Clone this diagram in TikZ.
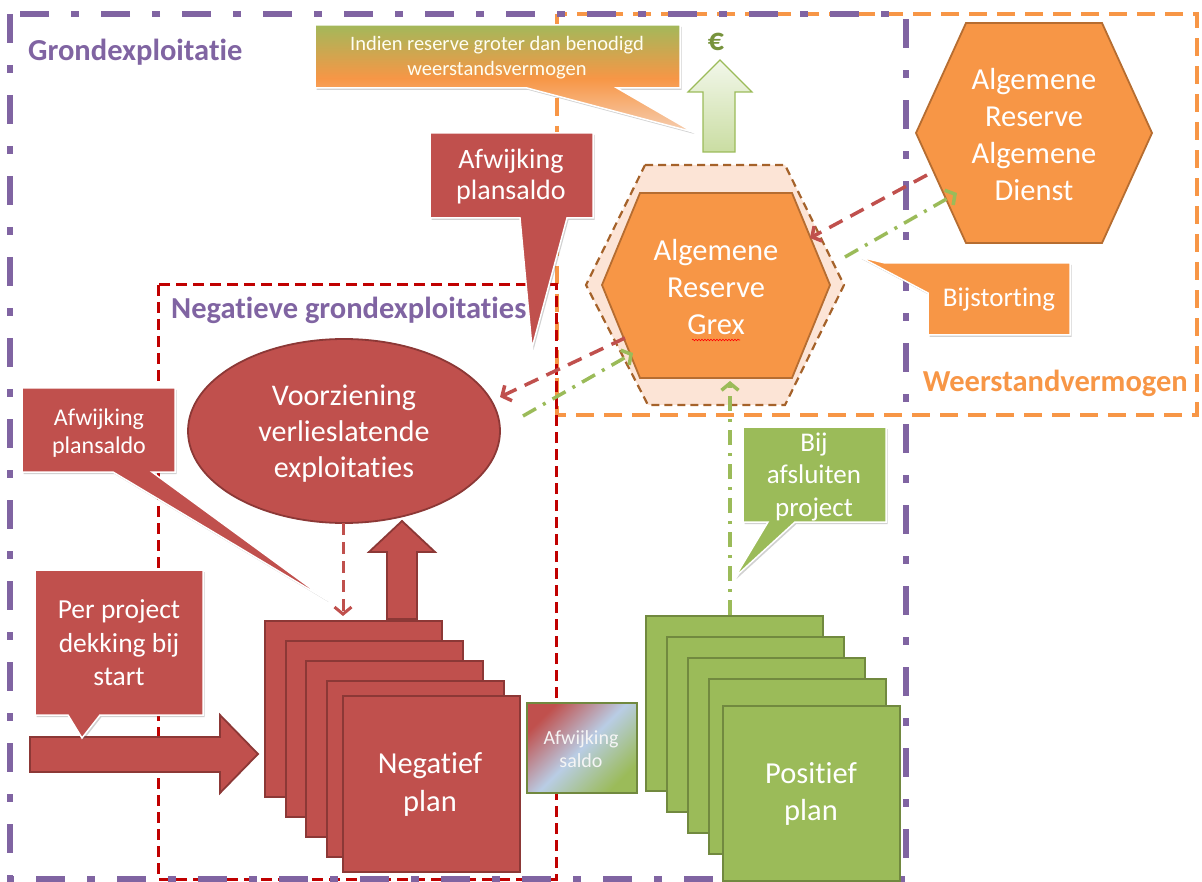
\documentclass[tikz,border=0pt]{standalone}
\usepackage{fontspec}
\setmainfont{Carlito}[Ligatures={NoCommon}]
\usetikzlibrary{shapes.geometric,arrows.meta,shadows,decorations.pathmorphing}

\definecolor{purp}{HTML}{8064A2}
\definecolor{orng}{HTML}{F79646}
\definecolor{orngdk}{HTML}{B66D31}
\definecolor{redf}{HTML}{C0504D}
\definecolor{reddk}{HTML}{8C3836}
\definecolor{grnf}{HTML}{9BBB59}
\definecolor{grndk}{HTML}{71893F}
\definecolor{frred}{HTML}{C00000}
\definecolor{hexhalo}{HTML}{FCE4D6}
\definecolor{hexdash}{HTML}{A5622A}
\definecolor{eurogrn}{HTML}{77933C}
\definecolor{lblue}{HTML}{B9CDE5}
\definecolor{olive}{HTML}{A3B85A}
\definecolor{peach}{HTML}{F6CFB2}
\definecolor{lgrntop}{HTML}{F2F7EA}
\definecolor{lgrnbot}{HTML}{CADDA2}

\newcommand\fsz[2]{\fontsize{#1}{#2}\selectfont}

\tikzset{
  purpframe/.style={draw=purp, line width=5.5pt, dash pattern=on 29pt off 22pt on 8pt off 22pt},
  orngframe/.style={draw=orng, line width=3.5pt, dash pattern=on 18pt off 10pt},
  redframe/.style={draw=frred, line width=3pt, dash pattern=on 11pt off 6pt},
  wtxt/.style={text=white, align=center, inner sep=0pt},
  callout/.style={draw=white, line width=1.5pt, line join=miter,
    drop shadow={shadow xshift=1.5pt, shadow yshift=-2pt, opacity=0.3, fill=black!60}},
  negplan/.style={draw=reddk, fill=redf, line width=2.2pt, minimum width=177pt,
    minimum height=176pt, anchor=north west, inner sep=0pt},
  posplan/.style={draw=grndk, fill=grnf, line width=2.4pt, minimum width=177pt,
    minimum height=175pt, anchor=north west, inner sep=0pt},
  hexbox/.style={fill=orng, draw=orngdk, line width=1.8pt, line join=miter},
  redarr/.style={draw=redf, line width=3.5pt, dash pattern=on 15pt off 9pt,
    -{Straight Barb[length=7pt,width=17pt]}},
  grnarr/.style={draw=grnf, line width=3.5pt, dash pattern=on 15pt off 8pt on 3pt off 8pt,
    -{Straight Barb[length=7pt,width=17pt]}},
  blockred/.style={fill=redf, draw=reddk, line width=1.8pt, line join=miter},
  framelabel/.style={inner sep=0pt, font=\bfseries\fsz{30.5}{36}}
}

\begin{document}
\begin{tikzpicture}[x=1pt,y=-1pt]
\useasboundingbox (0,0) rectangle (1202,882);

% ---------- frames ----------
\draw[orngframe] (557,14) rectangle (1197,415);
\draw[redframe] (158,285) rectangle (556,879);
\draw[purpframe] (10,14) rectangle (906,879);

\node[framelabel, text=purp, anchor=west] (lblgrond) at (28,52) {Grondexploitatie};
\node[framelabel, text=purp, anchor=west] (lblneg) at (171,310) {Negatieve grondexploitaties};
\node[framelabel, text=orng, anchor=east] (lblweer) at (1188,383) {Weerstandvermogen};

% ---------- top callout ----------
\path[callout, top color=olive, bottom color=peach, middle color=orng]
  (315,25) -- (680,25) -- (680,88) -- (617,88) -- (693,132) -- (527,88) -- (315,88) -- cycle;
\node[wtxt, text=white!95!yellow, font=\fsz{20.5}{25}] (indien) at (497,57.5)
  {Indien reserve groter dan benodigd\\weerstandsvermogen};

% ---------- euro arrow ----------
\draw[draw=grnf, line width=1.2pt, top color=lgrntop, bottom color=lgrnbot, line join=miter]
  (720,60) -- (752,92) -- (735,92) -- (735,152) -- (703,152) -- (703,92) -- (688,92) -- cycle;
\node[inner sep=0pt, text=eurogrn, font=\bfseries\fsz{32}{36}] (euro) at (716,42) {€};

% ---------- red callout top ----------
\path[callout, fill=redf]
  (430,133) -- (593,133) -- (593,218) -- (567,218) -- (532,348) -- (520,218) -- (430,218) -- cycle;
\node[wtxt, font=\fsz{28}{31}] (afwtop) at (511,177) {Afwijking\\plansaldo};

% ---------- hexagons ----------
\draw[fill=hexhalo, draw=hexdash, line width=2.2pt, dash pattern=on 8pt off 5pt]
  (645,165) -- (785,165) -- (844,285) -- (785,405) -- (648,405) -- (586,285) -- cycle;
\draw[hexbox] (640,193) -- (792,193) -- (830,285) -- (792,378) -- (640,378) -- (602,285) -- cycle;
\node[wtxt, font=\fsz{30.5}{37}] (grex) at (716,287) {Algemene\\Reserve\\Grex};
\draw[red, line width=0.6pt, decorate, decoration={snake, amplitude=0.8pt, segment length=3pt}]
  (692,340) -- (740,340);

\draw[hexbox] (966,23) -- (1102,23) -- (1152,133) -- (1102,243) -- (966,243) -- (916,133) -- cycle;
\node[wtxt, font=\fsz{30.5}{37}] (dienst) at (1034,135) {Algemene\\Reserve\\Algemene\\Dienst};

% ---------- Bijstorting callout ----------
\path[callout, fill=orng]
  (928,263) -- (1070,263) -- (1070,335) -- (928,335) -- (928,293) -- (860,257) -- (885,263) -- cycle;
\node[wtxt, font=\fsz{27}{30}] (bijst) at (999,300) {Bijstorting};

% ---------- ellipse ----------
\node[ellipse, fill=redf, draw=reddk, line width=1.8pt, minimum width=312pt, minimum height=184pt]
  (voorz) at (344,431) {};
\node[wtxt, font=\fsz{30}{36}] (voorztxt) at (344,434) {Voorziening\\verlieslatende\\exploitaties};

% ---------- left callout ----------
\path[callout, fill=redf]
  (22,388) -- (175,388) -- (175,472) -- (152,472) -- (327,600) -- (113,472) -- (22,472) -- cycle;
\node[wtxt, font=\fsz{24}{27.5}] (afwleft) at (99,433) {Afwijking\\plansaldo};

% ---------- per project callout and arrow ----------
\draw[blockred] (30,737) -- (220,737) -- (220,715) -- (258,754) -- (220,793) -- (220,772) -- (30,772) -- cycle;
\path[callout, fill=redf]
  (35,570) -- (203,570) -- (203,715) -- (100,715) -- (82,738) -- (68,715) -- (35,715) -- cycle;
\node[wtxt, font=\fsz{27.5}{33.5}] (perproj) at (119,643) {Per project\\dekking bij\\start};

% ---------- negative plan stack ----------
\node[negplan] (neg1) at (264,620) {};
\node[negplan] (neg2) at (285,640) {};
\node[negplan] (neg3) at (305,660) {};
\node[negplan] (neg4) at (326,680) {};
\node[negplan] (neg5) at (342,695) {};
\node[wtxt, font=\fsz{30.5}{38}] (negtxt) at (430,784) {Negatief\\plan};

% red block arrow up
\draw[blockred] (402,521) -- (435,552) -- (417,552) -- (417,619) -- (387,619) -- (387,552) -- (369,552) -- cycle;

% ---------- Afwijking saldo ----------
\path[draw=grndk, line width=2.2pt, left color=redf, right color=grnf, middle color=lblue, shading angle=45]
  (527,703) rectangle (637,793);
\node[text=white!92!gray, align=center, inner sep=0pt, font=\fsz{20}{23}] (afwsaldo) at (581,749) {Afwijking\\saldo};

% ---------- positive plan stack ----------
\node[posplan] (pos1) at (645,615) {};
\node[posplan] (pos2) at (666,636) {};
\node[posplan] (pos3) at (687,657) {};
\node[posplan] (pos4) at (708,678) {};
\node[posplan] (pos5) at (722,705) {};
\node[wtxt, font=\fsz{30.5}{37}] (postxt) at (811,794) {Positief\\plan};

% ---------- Bij afsluiten callout ----------
\path[callout, fill=grnf]
  (743,427) -- (886,427) -- (886,522) -- (795,522) -- (735,577) -- (768,522) -- (743,522) -- cycle;
\node[wtxt, font=\fsz{27}{32.5}] (bijafs) at (814,477) {Bij\\afsluiten\\project};

% ---------- dashed connectors ----------
\coordinate (dienstA) at (927,175);
\coordinate (grexNE) at (810,238);
\coordinate (grexE) at (845,257);
\coordinate (dienstB) at (957,193);
\coordinate (grexW) at (625,338);
\coordinate (voorzE) at (500,397);
\coordinate (voorzE2) at (523,416);
\coordinate (grexSW) at (633,353);
\coordinate (pos1N) at (730,615);
\coordinate (grexS) at (730,381);
\coordinate (voorzS) at (343,523);
\coordinate (neg1N) at (343,616);

\draw[redarr] (dienstA) -- (grexNE);
\draw[grnarr] (grexE) -- (dienstB);
\draw[redarr] (grexW) -- (voorzE);
\draw[grnarr] (voorzE2) -- (grexSW);
\draw[grnarr] (pos1N) -- (grexS);
\draw[redarr, line width=3pt, dash pattern=on 12pt off 7pt] (voorzS) -- (neg1N);

\end{tikzpicture}
\end{document}
